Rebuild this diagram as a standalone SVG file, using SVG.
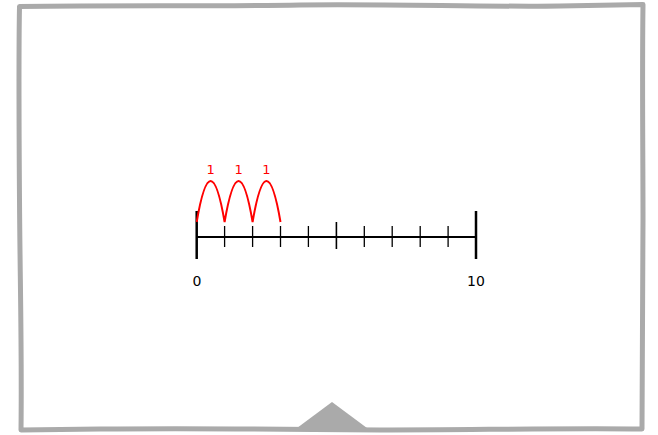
<svg xmlns="http://www.w3.org/2000/svg" width="658" height="435" viewBox="0 0 658 435">
<style>
.frame{fill:none;stroke:#aaaaaa;stroke-width:5;stroke-linejoin:round}
.axis{stroke:#000;stroke-width:2;fill:none}
.tick{stroke:#000;stroke-width:1.3}
.big{stroke:#000;stroke-width:2.5}
.hop{fill:none;stroke:#ff0000;stroke-width:2}
.lbl{font-family:"DejaVu Sans",sans-serif;font-size:14px;fill:#000;text-anchor:middle}
.hl{font-family:"DejaVu Sans",sans-serif;font-size:13px;fill:#ff0000;text-anchor:middle}
</style>
<rect x="0" y="0" width="658" height="435" fill="#ffffff"/>
<g id="frame">
<path class="frame" d="M19.5,6.5 C120,5 200,6.5 300,5 C400,4 480,7 560,6 C600,5.5 625,5 643,4.5 C642,80 643,150 643,220 C642.5,300 642,380 642,429 C560,428 470,430 380,430 C290,429 200,428 100,429 C70,429.5 40,430 21,430 C22,350 20,280 19.5,200 C19,130 18.5,60 19.5,6.5 Z"/>
<polygon points="297,428 332,402 367,428" fill="#aaaaaa"/>
</g>
<g id="number-line">
<line class="axis" x1="196.7" y1="237" x2="476" y2="237"/>
<line class="big" x1="196.7" y1="211" x2="196.7" y2="259"/>
<line class="big" x1="476" y1="211" x2="476" y2="259"/>
<line class="tick" x1="224.6" y1="226" x2="224.6" y2="247"/>
<line class="tick" x1="252.6" y1="226" x2="252.6" y2="247"/>
<line class="tick" x1="280.5" y1="226" x2="280.5" y2="247"/>
<line class="tick" x1="308.4" y1="226" x2="308.4" y2="247"/>
<line class="tick" x1="336.4" y1="222" x2="336.4" y2="249" style="stroke-width:1.6"/>
<line class="tick" x1="364.3" y1="226" x2="364.3" y2="247"/>
<line class="tick" x1="392.2" y1="226" x2="392.2" y2="247"/>
<line class="tick" x1="420.2" y1="226" x2="420.2" y2="247"/>
<line class="tick" x1="448.1" y1="226" x2="448.1" y2="247"/>
<text class="lbl" x="197" y="286">0</text>
<text class="lbl" x="476" y="286">10</text>
</g>
<g id="hops">
<path class="hop" d="M196.7,222 Q210.6,140 224.6,222 Q238.6,140 252.6,222 Q266.5,140 280.5,222"/>
<text class="hl" x="210.6" y="174">1</text>
<text class="hl" x="238.6" y="174">1</text>
<text class="hl" x="266.5" y="174">1</text>
</g>
</svg>
